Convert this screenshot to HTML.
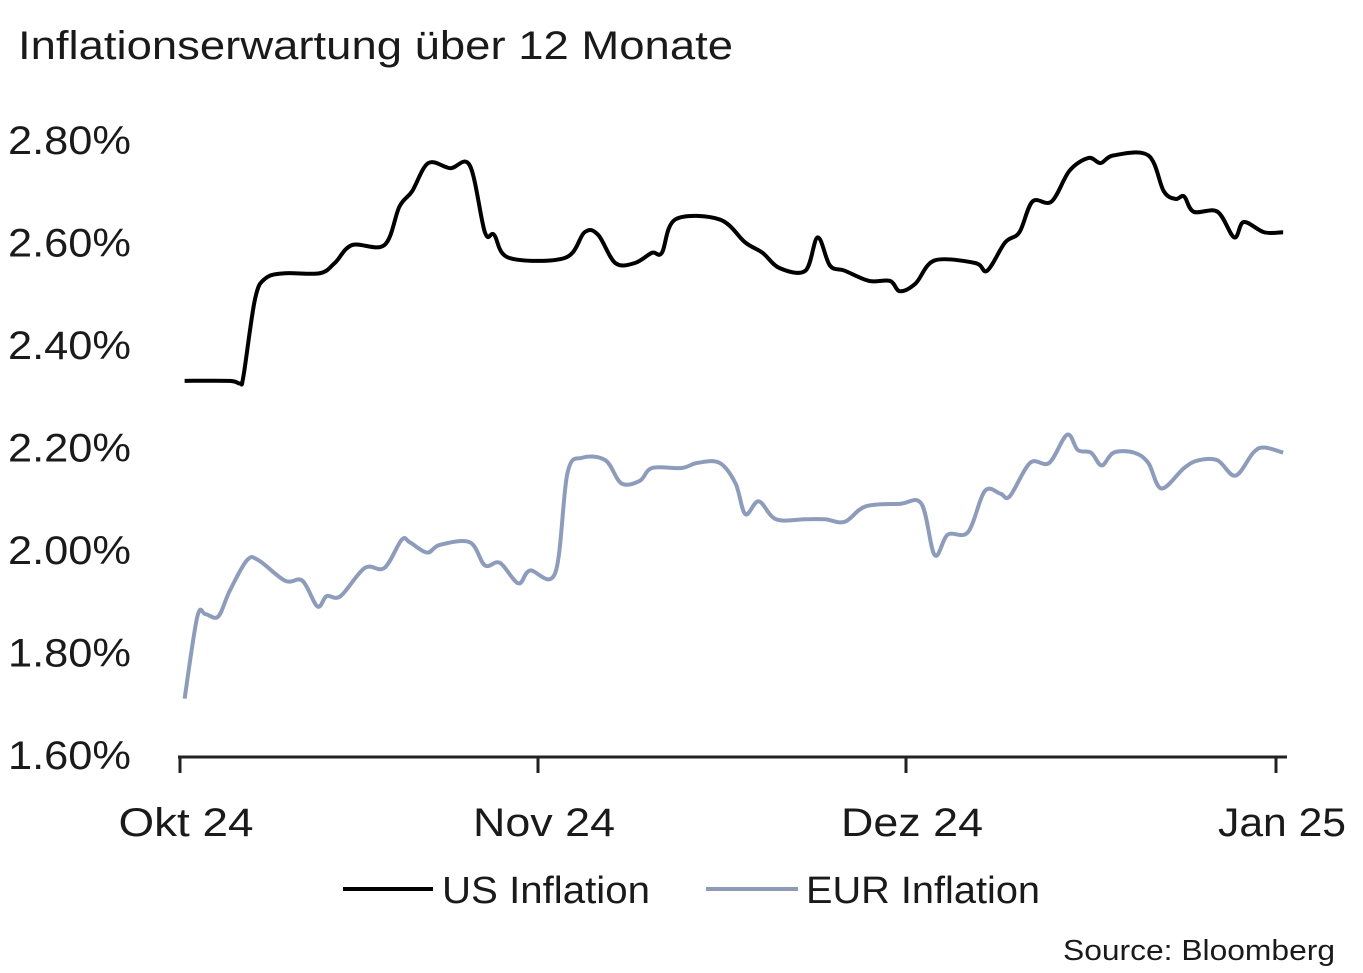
<!DOCTYPE html>
<html><head><meta charset="utf-8">
<style>
html,body{margin:0;padding:0;background:#fff;}
body{width:1363px;height:968px;overflow:hidden;font-family:"Liberation Sans",sans-serif;}
svg text{font-family:"Liberation Sans",sans-serif;fill:#1a1a1a;}
</style></head>
<body>
<svg id="chart" width="1363" height="968" viewBox="0 0 1363 968">
<text x="18" y="59" font-size="40" textLength="715" lengthAdjust="spacingAndGlyphs">Inflationserwartung über 12 Monate</text>
<g id="yaxis"></g>
<g id="xaxis"></g>
<g id="series"></g>
<g>
  <line x1="343" y1="889" x2="433" y2="889" stroke="#000" stroke-width="4"/>
  <text x="442" y="903" font-size="38" textLength="208" lengthAdjust="spacingAndGlyphs">US Inflation</text>
  <line x1="706" y1="889" x2="798" y2="889" stroke="#8e9cbb" stroke-width="4"/>
  <text x="806" y="903" font-size="38" textLength="234" lengthAdjust="spacingAndGlyphs">EUR Inflation</text>
</g>
<text x="1063" y="960" font-size="29" textLength="272" lengthAdjust="spacingAndGlyphs">Source: Bloomberg</text>
</svg>
<script>
const yTicks=[1.6,1.8,2.0,2.2,2.4,2.6,2.8];
const yTickLabels=["1.60%","1.80%","2.00%","2.20%","2.40%","2.60%","2.80%"];
const xTickDays=[0,31,61,92];
const xTickLabels=["Okt 24","Nov 24","Dez 24","Jan 25"];
const usDays=[0.4,4.3,5.2,5.5,6.5,7.4,9.1,12.1,13.4,14.9,17.7,19.0,20.1,21.5,23.4,25.1,26.4,27.2,28.5,33.2,34.8,35.9,37.3,38.9,40.3,41.1,42.2,45.8,47.9,49.3,50.7,52.8,53.8,54.8,56.0,58.0,59.7,60.5,61.8,63.4,66.8,67.8,69.3,70.5,71.6,73.2,74.7,76.3,77.3,78.4,81.3,82.6,83.6,84.3,85.1,87.1,88.5,89.3,91.0,92.6];
const usValues=[2.33,2.33,2.325,2.34,2.49,2.53,2.54,2.54,2.56,2.595,2.595,2.67,2.70,2.755,2.745,2.75,2.62,2.615,2.57,2.57,2.62,2.615,2.56,2.56,2.58,2.58,2.645,2.645,2.60,2.58,2.55,2.545,2.61,2.555,2.545,2.525,2.525,2.505,2.52,2.565,2.56,2.545,2.60,2.62,2.68,2.68,2.74,2.765,2.755,2.77,2.77,2.70,2.685,2.69,2.66,2.66,2.61,2.64,2.62,2.62];
const eurDays=[0.4,1.5,2.2,3.3,4.3,5.8,6.8,9.1,10.6,11.9,12.7,13.9,16.0,17.7,19.2,19.9,21.4,22.5,25.1,26.4,27.7,29.3,30.3,32.4,33.4,34.6,36.5,37.8,39.3,40.3,42.7,44.0,45.8,47.1,47.9,49.0,50.4,52.8,54.4,56.0,57.7,60.5,62.3,63.4,64.5,66.2,67.6,68.9,69.7,71.4,73.0,74.5,75.4,76.5,77.4,78.4,80.1,81.3,82.4,84.3,85.5,87.1,88.6,90.1,91.0,92.6];
const eurValues=[1.71,1.87,1.875,1.87,1.92,1.98,1.98,1.94,1.94,1.89,1.91,1.91,1.965,1.965,2.02,2.015,1.995,2.01,2.015,1.97,1.975,1.935,1.96,1.955,2.15,2.18,2.175,2.13,2.135,2.16,2.16,2.17,2.17,2.13,2.07,2.095,2.06,2.06,2.06,2.055,2.085,2.09,2.09,1.99,2.03,2.035,2.115,2.11,2.105,2.17,2.17,2.225,2.195,2.19,2.165,2.19,2.19,2.17,2.12,2.16,2.175,2.175,2.145,2.19,2.20,2.19];

const NS="http://www.w3.org/2000/svg";
const tickPx=[180,538,906,1276];
function xScale(d){
  for(let i=0;i<xTickDays.length-1;i++){
    if(d<=xTickDays[i+1]||i===xTickDays.length-2){
      const t=(d-xTickDays[i])/(xTickDays[i+1]-xTickDays[i]);
      return tickPx[i]+t*(tickPx[i+1]-tickPx[i]);
    }
  }
}
function yScale(v){return 755-(v-1.6)/1.2*615;}
function mk(tag,attrs,parent){const e=document.createElementNS(NS,tag);for(const k in attrs)e.setAttribute(k,attrs[k]);parent.appendChild(e);return e;}

const ya=document.getElementById('yaxis');
yTicks.forEach((v,i)=>{
  const t=mk('text',{x:8,y:yScale(v)+14,'font-size':40,textLength:123,lengthAdjust:'spacingAndGlyphs'},ya);
  
  
  t.textContent=yTickLabels[i];
});
const xa=document.getElementById('xaxis');
const al=mk('line',{x1:178,y1:757,x2:1287,y2:757,stroke:'#222','stroke-width':3},xa);


xTickDays.forEach((d,i)=>{
  const x=xScale(d);
  const tk=mk('line',{x1:x,y1:757,x2:x,y2:773,stroke:'#222','stroke-width':3},xa);
  
  
  const w=(i===3)?128:(i===0?135:142);
  const t=mk('text',{x:x+6-w/2,y:836,'font-size':40,textLength:w,lengthAdjust:'spacingAndGlyphs'},xa);
  
  
  t.textContent=xTickLabels[i];
});
function pathFor(days,vals){
  const p=days.map((d,i)=>[xScale(d),yScale(vals[i])]);
  let s='M'+p[0][0]+','+p[0][1];
  for(let i=0;i<p.length-1;i++){
    const p0=p[Math.max(0,i-1)],p1=p[i],p2=p[i+1],p3=p[Math.min(p.length-1,i+2)];
    const c1=[p1[0]+(p2[0]-p0[0])/6,p1[1]+(p2[1]-p0[1])/6];
    const c2=[p2[0]-(p3[0]-p1[0])/6,p2[1]-(p3[1]-p1[1])/6];
    s+=` C${c1[0]},${c1[1]} ${c2[0]},${c2[1]} ${p2[0]},${p2[1]}`;
  }
  return s;
}
const sg=document.getElementById('series');
const eur=mk('path',{d:pathFor(eurDays,eurValues),fill:'none',stroke:'#8e9cbb','stroke-width':4,'stroke-linejoin':'round'},sg);


const us=mk('path',{d:pathFor(usDays,usValues),fill:'none',stroke:'#000','stroke-width':4,'stroke-linejoin':'round'},sg);


</script>
</body></html>
